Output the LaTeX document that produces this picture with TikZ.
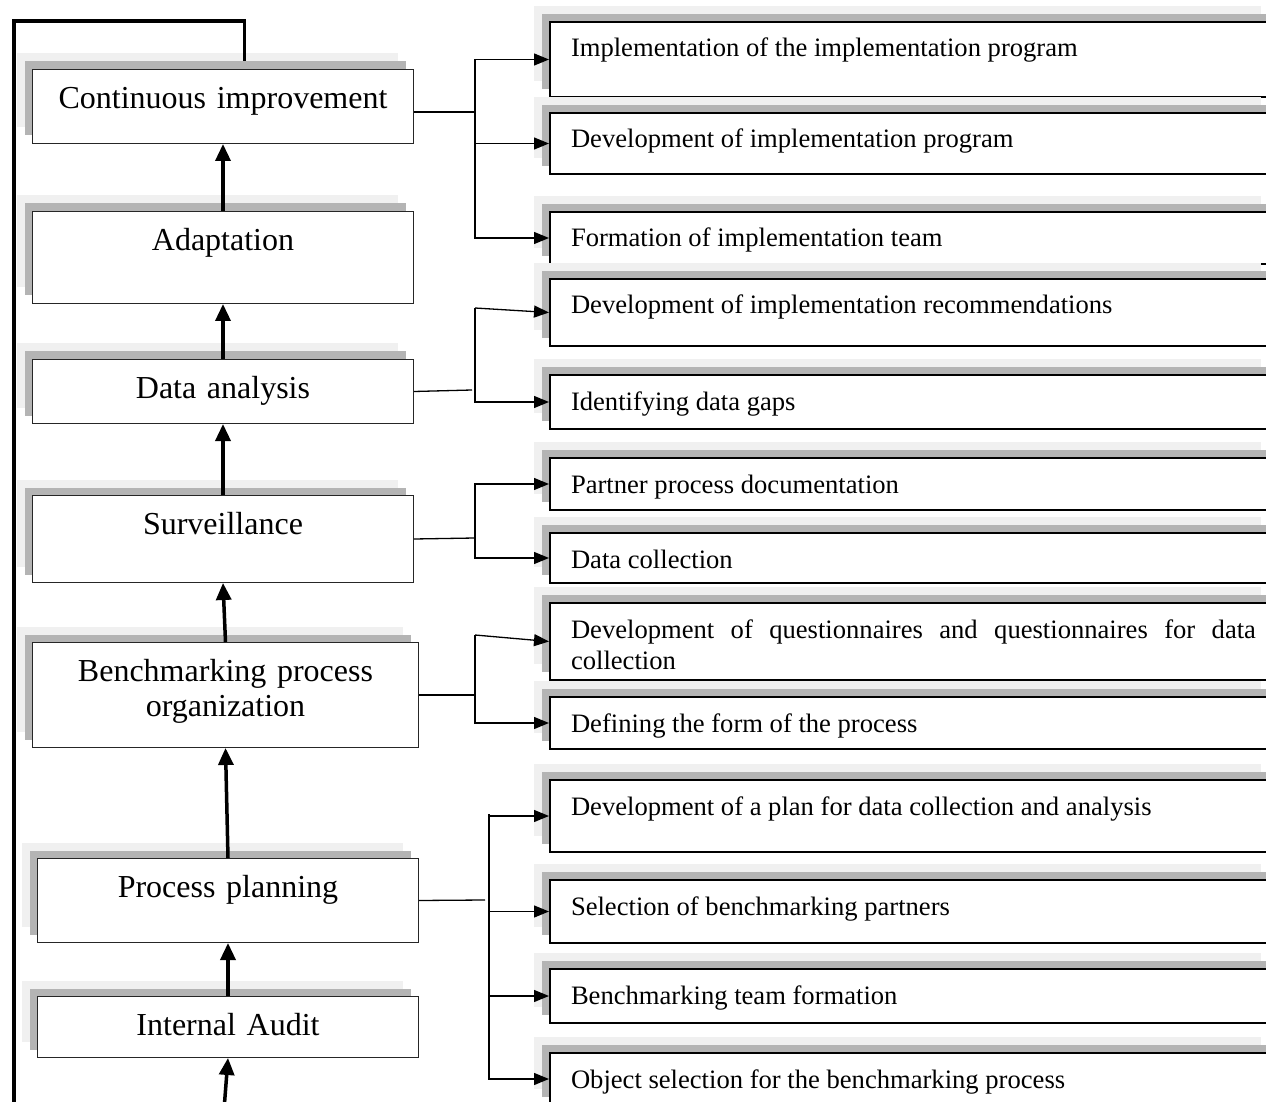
\documentclass[tikz,border=0pt]{standalone}
\usepackage{fontspec}
\setmainfont{Liberation Serif}
\usetikzlibrary{arrows.meta,shadows}

\definecolor{shlight}{HTML}{F0F0F0}
\definecolor{shdark}{HTML}{B4B4B4}

\hyphenpenalty=10000
\exhyphenpenalty=10000
\hbadness=10000

\tikzset{
  dblshadow/.style={general shadow={fill=shlight,shadow xshift=-8pt,shadow yshift=8pt},
                    general shadow={fill=shdark,shadow xshift=-4pt,shadow yshift=4pt}},
  lbox/.style={dblshadow, draw=black!85, line width=0.5pt, fill=white, anchor=north west,
               minimum width=190.5pt, text width=180pt, inner xsep=5.25pt, inner ysep=0pt,
               align=center, font=\fontsize{16}{17.5}\selectfont, text height=19.5pt, text depth=#1},
  rbox/.style={dblshadow, draw, line width=1pt, fill=white, anchor=north west,
               text width=342.5pt, inner xsep=10.5pt, inner ysep=0pt, align=justify,
               font=\fontsize{13.3}{15.5}\selectfont, text height=17.5pt, text depth=#1},
  uparr/.style={line width=1.75pt, -{Triangle[length=8.5pt,width=7.5pt]}},
  loopln/.style={line width=1.75pt},
  conn/.style={line width=0.65pt},
  brarr/.style={conn, -{Triangle[length=7.5pt,width=6pt]}}
}

\begin{document}
\begin{tikzpicture}[x=0.5pt, y=-0.5pt]
    \useasboundingbox (0,0) rectangle (1266,1102);

    % Stages
    \node[lbox=17.5pt] (ci) at (32,69) {Continuous improvement};
    \node[lbox=26.5pt] (ad) at (32,211) {Adaptation};
    \node[lbox=12.5pt] (da) at (32,359) {Data analysis};
    \node[lbox=24pt] (sv) at (32,495) {Surveillance};
    \node[lbox=33pt, minimum width=193pt] (bp) at (32,642) {Benchmarking process\\organization};
    \node[lbox=22.5pt] (pp) at (37,858) {Process planning};
    \node[lbox=11pt] (ia) at (37,996) {Internal Audit};

    % Tasks
    \node[rbox=20pt] (r1) at (549,21) {Implementation of the implementation program};
    \node[rbox=13pt] (r2) at (549,112) {Development of implementation program};
    \node[rbox=8.5pt] (r3) at (549,211) {Formation of implementation team};
    \node[rbox=16pt] (r4) at (549,278) {Development of implementation recommendations};
    \node[rbox=9.5pt] (r5) at (549,374) {Identifying data gaps};
    \node[rbox=8.5pt] (r6) at (549,457) {Partner process documentation};
    \node[rbox=7.5pt] (r7) at (549,532) {Data collection};
    \node[rbox=21pt] (r8) at (549,602) {Development of questionnaires and questionnaires for data collection};
    \node[rbox=8.5pt] (r9) at (549,696) {Defining the form of the process};
    \node[rbox=18.5pt] (r10) at (549,779) {Development of a plan for data collection and analysis};
    \node[rbox=14pt] (r11) at (549,879) {Selection of benchmarking partners};
    \node[rbox=9.5pt] (r12) at (549,968) {Benchmarking team formation};
    \node[rbox=8.5pt] (r13) at (549,1052) {Object selection for the benchmarking process};

    % Upward flow
    \foreach \a/\b in {ad/ci,da/ad,sv/da,bp/sv,pp/bp,ia/pp}
        \draw[uparr] (\a.north) -- (\b.south);
    \coordinate (ia0) at (224,1110);
    \draw[uparr] (ia0) -- (ia.south);

    % Feedback loop
    \coordinate (lb) at (14,1110);
    \coordinate (lt) at (14,21);
    \draw[loopln] (lb) -- (lt) -| ([xshift=10.75pt,yshift=4pt]ci.north);

    % Branches
    \coordinate (j1) at (475,112);
    \draw[conn] (ci.east |- j1) -- (j1);
    \foreach \n in {r1,r2,r3}
        \draw[brarr] (j1) |- (\n.west);

    \coordinate (j2) at (472,390);
    \coordinate (j2t) at (475,308);
    \draw[conn] (da.east) -- (j2);
    \draw[brarr] (j2t) -- (r4.west);
    \draw[brarr] (j2t) |- (r5.west);

    \coordinate (j3) at (475,538);
    \draw[conn] (sv.east) -- (j3);
    \foreach \n in {r6,r7}
        \draw[brarr] (j3) |- (\n.west);

    \coordinate (j4t) at (475,635);
    \draw[conn] (bp.east) -- (bp.east -| j4t);
    \draw[brarr] (j4t) -- (r8.west);
    \draw[brarr] (j4t) |- (r9.west);

    \coordinate (j5) at (485,900);
    \coordinate (j5t) at (489,814);
    \draw[conn] (pp.east) -- (j5);
    \foreach \n in {r10,r11,r12,r13}
        \draw[brarr] (j5t) |- (\n.west);
\end{tikzpicture}
\end{document}
